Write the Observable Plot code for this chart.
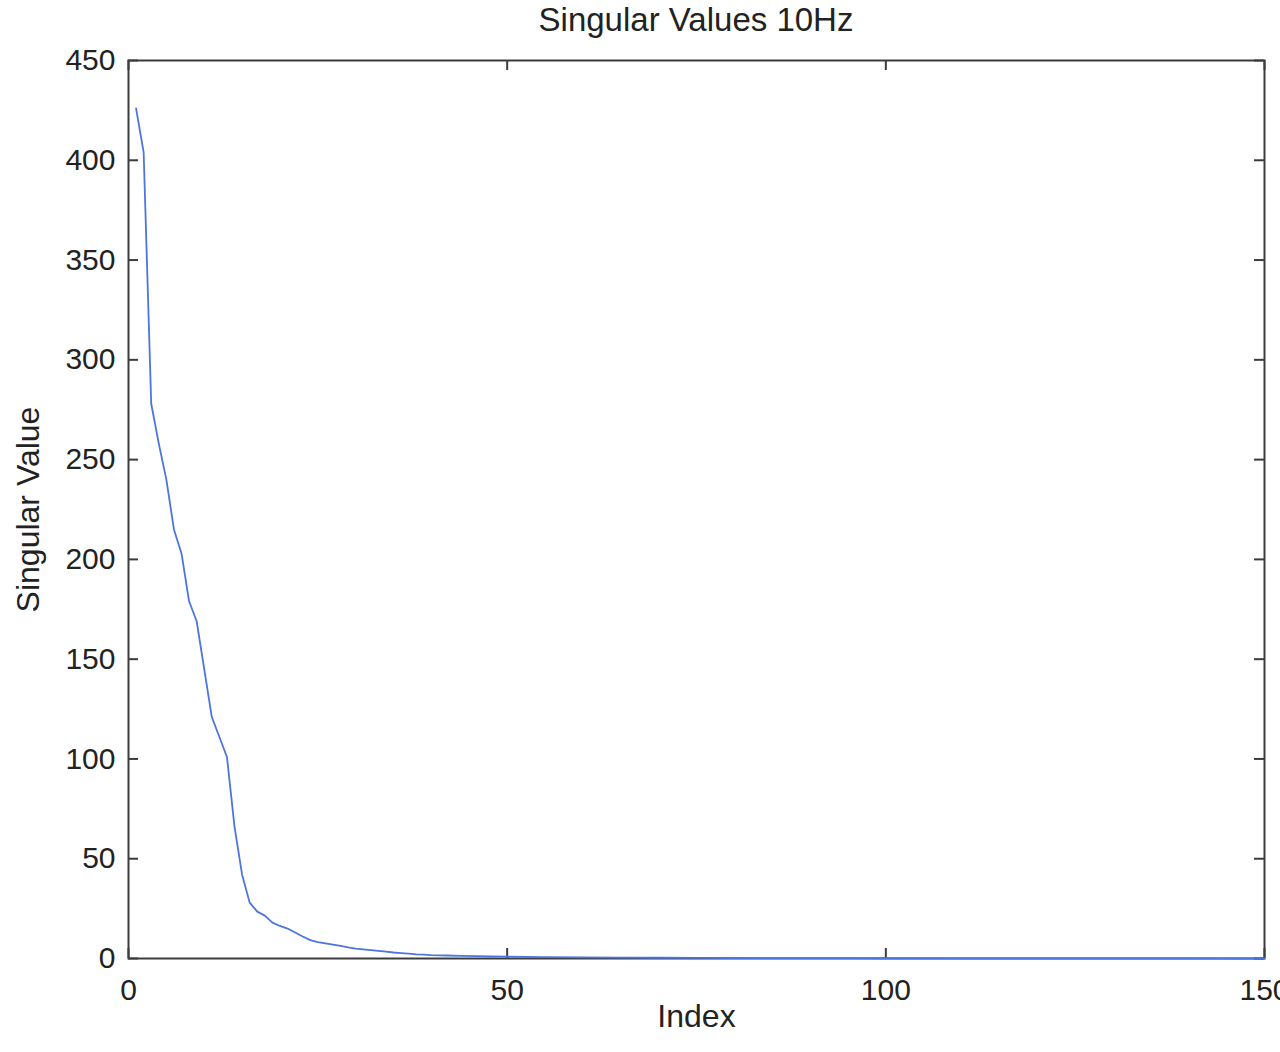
<!DOCTYPE html>
<html><head><meta charset="utf-8">
<script src="https://cdn.jsdelivr.net/npm/d3@7"></script>
<script src="https://cdn.jsdelivr.net/npm/@observablehq/plot@0.6"></script>
<style>
html,body{margin:0;padding:0;background:#fff;}
#title{height:40px;padding-top:0px;line-height:40px;box-sizing:border-box;padding-left:128px;padding-right:16px;text-align:center;font-family:"Liberation Sans",Arial,Helvetica,sans-serif;font-size:33px;color:#222;white-space:nowrap;}
#chart svg{display:block;}
</style></head><body>
<div id="title">Singular Values 10Hz</div>
<div id="chart"></div>
<script>
const indices = [1,2,3,4,5,6,7,8,9,10,11,12,13,14,15,16,17,18,19,20,
  21,22,23,24,25,26,27,28,29,30,31,32,33,34,35,36,37,38,39,40,
  42,44,46,48,50,55,60,65,70,75,80,85,90,95,100,110,120,130,140,150];
const singularValues = [426,404,278,258,240,215,203,179,169,145,121,111,101,66,42,28,23.5,21.5,18,16.3,
  15,13,11,9.2,8.2,7.6,7,6.3,5.6,5,4.6,4.2,3.8,3.4,3.0,2.7,2.4,2.1,1.9,1.7,
  1.5,1.3,1.15,1.0,0.9,0.7,0.55,0.45,0.37,0.3,0.25,0.2,0.17,0.14,0.12,0.09,0.06,0.04,0.025,0.01];
const xTicks = [0,50,100,150];
const yTicks = [0,50,100,150,200,250,300,350,400,450];
const xLabel = "Index";
const yLabel = "Singular Value";

const data = indices.map((i,k)=>({index:i, value:singularValues[k]}));
const W=1280, H=1012, mL=128, mR=16, mT=20, mB=94;
const innerW = W-mL-mR, innerH = H-mT-mB;
const tickLen = 10;
const font = '"Liberation Sans", Arial, Helvetica, sans-serif';
const axisColor = "#3c3c3c";

const plot = Plot.plot({
  width:W, height:H, marginLeft:mL, marginRight:mR, marginTop:mT, marginBottom:mB,
  x:{domain:[0,150]}, y:{domain:[0,450]},
  style:{fontFamily:font, fontSize:"30px", color:"#222", background:"#fff"},
  marks:[
    Plot.tickX(xTicks,{x:d=>d, insetTop: innerH - tickLen, stroke:axisColor, strokeWidth:2}),
    Plot.tickX(xTicks,{x:d=>d, insetBottom: innerH - tickLen, stroke:axisColor, strokeWidth:2}),
    Plot.tickY(yTicks,{y:d=>d, insetRight: innerW - tickLen, stroke:axisColor, strokeWidth:2}),
    Plot.tickY(yTicks,{y:d=>d, insetLeft: innerW - tickLen, stroke:axisColor, strokeWidth:2}),
    Plot.frame({stroke:axisColor, strokeWidth:2}),
    Plot.line(data,{x:"index", y:"value", stroke:"#4d74e0", strokeWidth:1.8}),
    Plot.axisX({ticks:xTicks, tickSize:0, tickPadding:20, fontSize:30, label:null}),
    Plot.axisY({ticks:yTicks, tickSize:0, tickPadding:13, fontSize:30, label:null}),
    Plot.text([xLabel],{frameAnchor:"bottom", lineAnchor:"middle", textAnchor:"middle", dy:58, fontSize:32, fill:"#222"}),
    Plot.text([yLabel],{frameAnchor:"left", lineAnchor:"middle", textAnchor:"middle", dx:-100, rotate:-90, fontSize:32, fill:"#222"})
  ]
});
document.getElementById("chart").appendChild(plot);
</script>
</body></html>
